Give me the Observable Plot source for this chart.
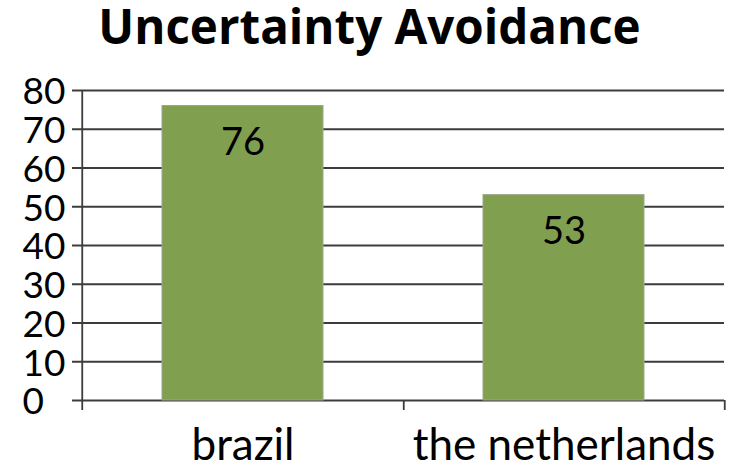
<!DOCTYPE html>
<html>
<head>
<meta charset="utf-8">
<script src="https://cdn.jsdelivr.net/npm/d3@7"></script>
<script src="https://cdn.jsdelivr.net/npm/@observablehq/plot@0.6"></script>
<style>
  body { margin: 0; background: #fff; font-family: Lato, "Open Sans", sans-serif; }
  #title { height: 70px; line-height: 51px; text-align: center; font-family: "Open Sans", Lato, sans-serif; font-weight: bold; font-size: 47.5px; color: #000; padding-left: 8px; white-space: nowrap; }
  #chart svg { display: block; overflow: visible; }
</style>
</head>
<body>
<div id="title">Uncertainty Avoidance</div>
<div id="chart"></div>
<script>
// Hofstede uncertainty-avoidance scores
const countries = ["brazil", "the netherlands"];
const scores = [76, 53];
const yTicks = [0, 10, 20, 30, 40, 50, 60, 70, 80];

const data = countries.map((c, i) => ({country: c, score: scores[i]}));

const W = 731, H = 393;
const mL = 81, mR = 7, mT = 20, mB = 63;
const step = (W - mL - mR) / countries.length;
const ink = "#3c3c3c";

const chart = Plot.plot({
  width: W,
  height: H,
  marginLeft: mL,
  marginRight: mR,
  marginTop: mT,
  marginBottom: mB,
  style: {fontFamily: "Lato, 'Open Sans', sans-serif", color: "#000", background: "#fff", overflow: "visible"},
  x: {domain: countries, paddingInner: 0.5, paddingOuter: 0.25, label: null},
  y: {domain: [0, 80], label: null, axis: null},
  marks: [
    // horizontal gridlines, extended left as tick marks
    Plot.ruleY(yTicks, {y: d => d, stroke: ink, strokeWidth: 1.8, insetLeft: -9}),
    Plot.barY(data, {x: "country", y: "score", fill: "#809f4f", stroke: "#9aa88a", strokeWidth: 1}),
    // vertical axis line
    Plot.ruleX([countries[0]], {x: d => d, dx: -step / 2, stroke: ink, strokeWidth: 1.8, insetBottom: -10}),
    // category boundary ticks
    Plot.ruleX(countries, {x: d => d, dx: step / 2, y1: 0, y2: 0, insetBottom: -10, stroke: ink, strokeWidth: 1.8}),
    // value labels inside the bars
    Plot.text(data, {x: "country", y: "score", text: d => String(d.score), dy: 37, fontSize: 38, fill: "#000"}),
    // left-aligned y tick labels
    Plot.text(yTicks, {y: d => d, text: d => String(d), frameAnchor: "left", textAnchor: "start", dx: -59, dy: 2, fontSize: 37, fill: "#000"}),
    Plot.axisX({tickSize: 0, tickPadding: 28, fontSize: 44, label: null})
  ]
});
document.getElementById("chart").append(chart);
</script>
</body>
</html>
